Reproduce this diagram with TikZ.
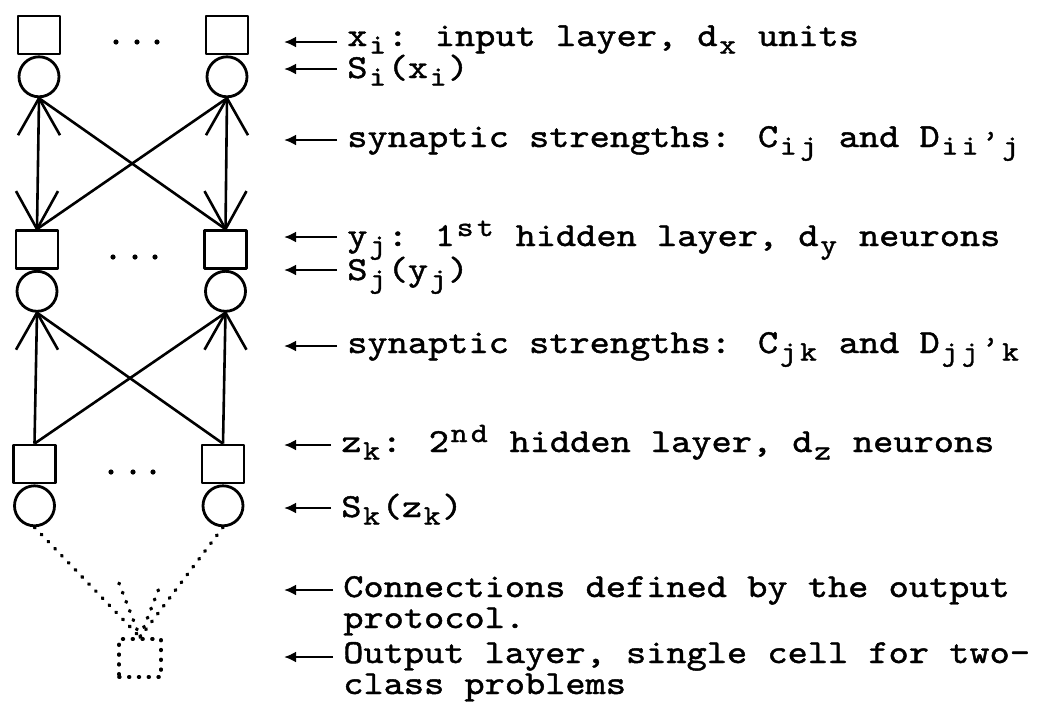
\documentclass[tikz,border=0pt]{standalone}
\usepackage{fontspec}
\usetikzlibrary{arrows.meta}
% wide, heavy typewriter face for the annotations
\newfontfamily\lblfont{lmmono10-regular.otf}[FakeBold=1.3,FakeStretch=1.145]
\makeatletter
% lowered / raised indices, each character kept on the typewriter pitch
\newcommand\lsub[1]{\raisebox{-7.5pt}{\fontsize{28}{28}\selectfont\@tfor\ch:=#1\do{\makebox[20.2pt]{\ch}}}}
\newcommand\lsup[1]{\raisebox{10pt}{\fontsize{28}{28}\selectfont\@tfor\ch:=#1\do{\makebox[20.2pt]{\ch}}}}
\makeatother
% prime inside an index
\newcommand\lprime{\raisebox{-2pt}{\fontsize{28}{28}\selectfont\makebox[20.2pt]{’}}}
% open V arrowhead pointing at #2, barbs offset vertically by #3
\newcommand\barbs[3][]{\draw[#1] ([shift={(-21,#3)}]#2) -- (#2) -- ([shift={(21,#3)}]#2);}
\begin{document}
\begin{tikzpicture}[x=1pt,y=-1pt,line width=2.6pt,line join=round,
  unit/.style={draw,minimum width=42pt,minimum height=38pt,inner sep=0pt,line width=2.8pt},
  cell/.style={draw,circle,minimum size=40pt,inner sep=0pt,line width=2.8pt,anchor=north},
  outcell/.style={draw,minimum width=42pt,minimum height=38pt,inner sep=0pt,dotlink},
  dotlink/.style={line width=3.6pt,line cap=round,dash pattern=on 0.8pt off 9pt},
  lbl/.style={anchor=base west,inner sep=0pt,font=\lblfont\fontsize{33.6}{31}\selectfont},
  larr/.style={-{Latex[length=12pt,width=11pt]},line width=2.6pt}]
\useasboundingbox (0,0) rectangle (1046,702);

% input layer
\node[unit] (s1L) at (39,35) {};
\node[unit] (s1R) at (227,35) {};
\node[cell] (c1L) at (s1L.south) {};
\node[cell] (c1R) at (s1R.south) {};
\foreach \x in {116,137,157} \fill (\x,42) circle (2.6);

% first hidden layer
\node[unit] (s2L) at (37,249.5) {};
\node[unit] (s2R) at (225.5,249.5) {};
\node[cell] (c2L) at (s2L.south) {};
\node[cell] (c2R) at (s2R.south) {};
\foreach \x in {113,135,155} \fill (\x,257) circle (2.6);

% second hidden layer
\node[unit] (s3L) at (34.5,464) {};
\node[unit] (s3R) at (223,464) {};
\node[cell] (c3L) at (s3L.south) {};
\node[cell] (c3R) at (s3R.south) {};
\foreach \x in {111,133,153} \fill (\x,472) circle (2.6);

% output cell
\node[outcell] (out) at (140,658) {};

% connections input -> first hidden layer
\draw (c1L.south) -- (s2L.north);
\draw (c1R.south) -- (s2R.north);
\draw (c1L.south) -- (s2R.north);
\draw (c1R.south) -- (s2L.north);
\barbs{c1L.south}{37}
\barbs{c1R.south}{37}
\barbs{s2L.north}{-38}
\barbs{s2R.north}{-38}

% connections first -> second hidden layer
\draw (s3L.north) -- (c2L.south);
\draw (s3R.north) -- (c2R.south);
\draw (s3L.north) -- (c2R.south);
\draw (s3R.north) -- (c2L.south);
\barbs{c2L.south}{37}
\barbs{c2R.south}{37}

% protocol connections to the output cell
\draw[dotlink] (c3L.south) -- (out.north);
\draw[dotlink] (c3R.south) -- (out.north);
\barbs[dotlink]{out.north}{-54}

% labels
\node[lbl] (l1) at (346,46) {x\lsub{i}: input layer, d\lsub{x} units};
\node[lbl] (l2) at (346,78) {S\lsub{i}(x\lsub{i})};
\node[lbl] (l3) at (346,147) {synaptic strengths: C\lsub{ij} and D\lsub{ii}\lprime\lsub{j}};
\node[lbl] (l4) at (346,246) {y\lsub{j}: 1\lsup{st} hidden layer, d\lsub{y} neurons};
\node[lbl] (l5) at (346,280) {S\lsub{j}(y\lsub{j})};
\node[lbl] (l6) at (346,353) {synaptic strengths: C\lsub{jk} and D\lsub{jj}\lprime\lsub{k}};
\node[lbl] (l7) at (340,452) {z\lsub{k}: 2\lsup{nd} hidden layer, d\lsub{z} neurons};
\node[lbl] (l8) at (340,517) {S\lsub{k}(z\lsub{k})};
\node[lbl] (l9) at (342,597) {Connections defined by the output};
\node[lbl] (l9b) at ([yshift=-31pt]l9.base west) {protocol.};
\node[lbl] (l10) at (342,663) {Output layer, single cell for two-};
\node[lbl] (l10b) at ([yshift=-31pt]l10.base west) {class problems};

% label pointers
\coordinate (a1) at (284,42);
\coordinate (a2) at (284,69);
\coordinate (a3) at (284,140);
\coordinate (a4) at (284,237);
\coordinate (a5) at (284,270);
\coordinate (a6) at (284,346);
\coordinate (a7) at (284,445);
\coordinate (a8) at (284,508);
\coordinate (a9) at (284,590);
\coordinate (a10) at (284,657);
\foreach \i in {1,...,10}
  \draw[larr] ([xshift=-9pt]l\i.west |- a\i) -- (a\i);
\end{tikzpicture}
\end{document}
